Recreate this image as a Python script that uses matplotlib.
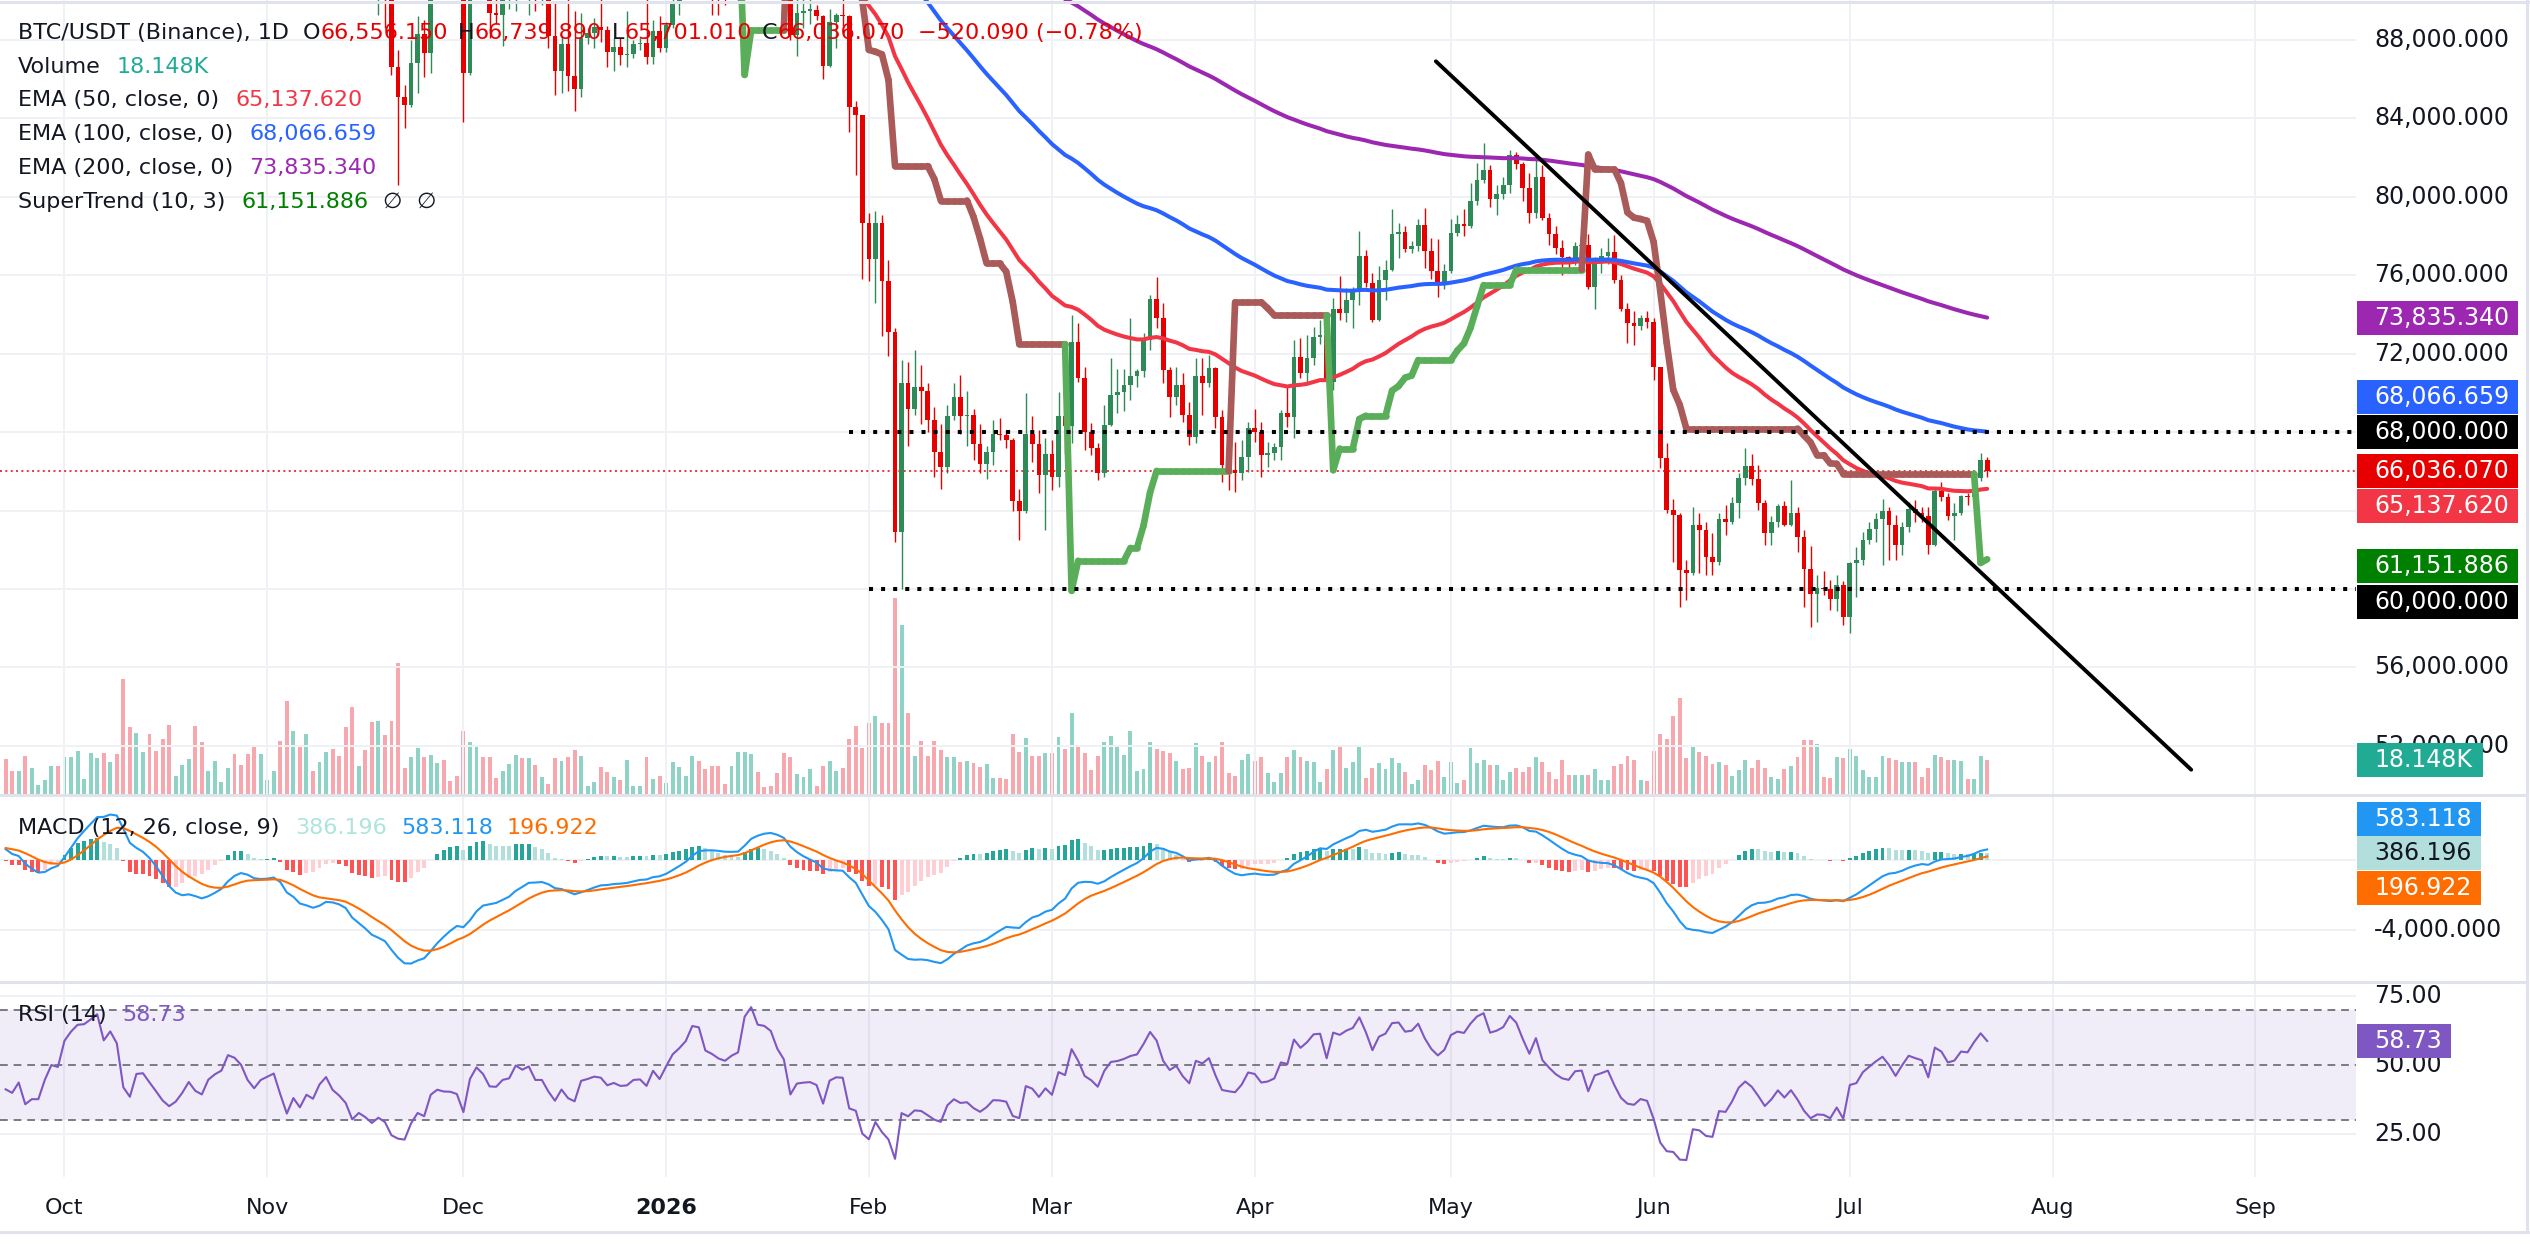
import numpy as np
import matplotlib
matplotlib.use("Agg")
import matplotlib.pyplot as plt
from matplotlib.patches import Rectangle
from matplotlib.collections import LineCollection
from matplotlib.lines import Line2D

W, H = 2530, 1253

# BTC/USDT (Binance) daily candles, 22 Sep 2025 .. 22 Jul 2026, prices in thousand USDT
first_open = 115.25
closes = [
    112.65, 111.99, 113.30, 109.00, 109.65, 109.65, 112.15, 114.35, 114.05,
    118.65, 120.65, 122.25, 122.40, 123.50, 124.75, 121.45, 123.35, 121.70, 113.20, 110.65, 115.15, 115.30, 113.10, 110.80, 108.20,
    106.45, 107.20, 108.65, 110.55, 108.45, 107.55, 110.05, 111.00, 111.65, 114.55, 114.10, 112.90, 110.05, 108.30, 109.60,
    110.10, 110.60, 106.55, 101.50, 103.90, 101.30, 103.35, 102.30, 104.70, 106.00, 103.05, 101.65, 99.70, 94.55, 95.55,
    94.20, 92.20, 92.95, 91.55, 86.60, 85.10, 84.70, 86.85, 88.30, 87.35, 90.50, 91.30, 90.90, 90.85, 90.40,
    86.30, 91.30, 93.45, 92.10, 89.40, 89.30, 90.40, 90.65, 92.70, 92.00, 92.50, 90.25, 90.25, 88.20, 86.40, 87.80,
    86.15, 85.50, 88.10, 88.35, 88.65, 88.50, 87.40, 87.65, 87.25, 87.30, 87.80, 87.85, 87.15, 88.45, 87.60,
    88.75, 89.95, 90.60, 91.40, 93.30, 93.20, 91.30, 91.00, 90.60, 90.40, 90.85, 91.15, 95.35, 97.00, 95.60, 95.50,
    95.10, 93.60, 92.60, 88.25, 89.40, 89.50, 89.55, 89.20, 86.65, 88.90, 89.25, 89.20, 84.60, 84.15, 78.65,
    76.84, 78.67, 75.70, 73.10, 62.90, 70.50, 69.20, 70.30, 70.10, 68.60, 67.00, 66.20, 68.80, 69.80,
    68.80, 68.90, 67.40, 66.40, 67.00, 67.90, 67.85, 67.60, 64.50, 64.00, 67.90, 67.40, 65.80, 66.90,
    65.70, 68.80, 68.30, 72.60, 70.75, 68.00, 67.17, 65.90, 68.37, 69.90, 70.06, 70.40, 70.86, 71.10, 72.70, 74.80,
    73.80, 71.17, 69.81, 70.40, 68.87, 67.77, 70.86, 70.49, 71.25, 68.79, 66.30, 66.07, 65.90, 66.75, 68.20,
    68.00, 66.84, 66.95, 67.26, 68.96, 68.79, 71.85, 71.00, 71.76, 72.87, 72.96, 70.57, 74.30, 74.06, 74.74,
    75.17, 76.98, 75.59, 73.70, 75.76, 76.27, 78.09, 78.20, 77.34, 77.49, 78.56, 77.26, 76.24, 75.59, 76.24,
    78.14, 78.62, 78.51, 79.79, 80.86, 81.37, 79.89, 80.15, 80.60, 82.14, 81.66, 80.43, 79.20, 81.00, 78.90, 78.11,
    77.40, 76.92, 76.75, 77.50, 77.56, 75.42, 76.78, 76.98, 77.20, 75.75, 74.30, 73.55, 73.41, 73.80, 73.60,
    71.34, 66.66, 64.03, 63.78, 60.97, 60.80, 63.27, 63.00, 61.65, 61.40, 63.57, 63.44, 64.37, 65.65, 66.27,
    65.60, 64.37, 62.87, 63.44, 64.23, 63.27, 63.90, 62.67, 61.00, 59.75, 60.04, 59.98, 59.47, 60.20, 58.59,
    61.31, 61.48, 62.50, 63.04, 63.55, 63.99, 63.26, 62.25, 63.18, 64.06, 63.86, 63.70, 62.25, 65.02, 64.68,
    63.72, 63.90, 64.74, 64.68, 65.65, 66.55615, 66.03607,
]
highs = [
    115.40, 113.25, 114.00, 113.90, 110.30, 110.00, 112.30, 114.50, 114.80,
    118.90, 121.00, 122.90, 122.90, 125.70, 126.20, 125.10, 124.20, 123.80, 122.50, 113.50, 115.80, 116.00, 115.80, 113.60, 111.10,
    109.20, 107.50, 109.50, 111.70, 114.00, 109.00, 111.30, 112.00, 111.90, 115.40, 116.10, 116.00, 113.60, 111.60, 111.20,
    110.60, 111.20, 110.80, 107.30, 104.80, 104.20, 104.00, 103.50, 105.50, 107.00, 107.00, 105.30, 104.00, 99.80, 96.80,
    96.60, 96.00, 93.80, 93.00, 93.20, 87.50, 85.70, 88.00, 89.20, 89.00, 90.70, 91.90, 93.00, 91.20, 92.00,
    91.90, 92.30, 94.20, 94.10, 92.70, 90.30, 91.80, 92.30, 94.60, 94.50, 93.50, 92.80, 90.60, 90.50, 90.00, 88.20,
    90.40, 89.50, 89.40, 88.60, 89.10, 90.60, 88.70, 88.10, 88.10, 89.50, 88.00, 88.10, 90.40, 89.00, 89.20,
    88.90, 90.90, 91.00, 91.80, 94.80, 94.40, 93.70, 91.50, 91.90, 90.90, 91.20, 92.40, 96.20, 97.90, 97.20, 95.90,
    95.60, 95.30, 94.00, 92.80, 90.40, 90.30, 90.50, 89.80, 89.25, 89.60, 89.40, 90.40, 89.30, 84.90, 84.20,
    79.20, 79.30, 79.10, 76.80, 73.30, 71.70, 71.60, 72.20, 71.40, 70.50, 69.30, 68.40, 69.40, 70.50,
    70.90, 70.10, 69.20, 68.40, 67.30, 68.60, 68.70, 68.10, 67.70, 65.10, 70.00, 68.80, 68.10, 67.70,
    67.60, 70.06, 69.20, 74.00, 73.55, 71.34, 68.45, 67.43, 69.40, 71.80, 71.20, 71.20, 73.80, 71.20, 73.04, 75.00,
    75.93, 74.57, 71.34, 71.34, 71.00, 69.55, 71.76, 71.76, 71.93, 71.34, 69.13, 67.26, 67.50, 67.60, 68.50,
    69.20, 68.50, 67.50, 67.43, 69.13, 70.32, 72.70, 72.79, 72.96, 73.38, 73.70, 73.00, 74.83, 75.96, 75.34,
    75.42, 78.26, 77.30, 76.13, 76.47, 76.80, 79.36, 78.65, 78.50, 77.77, 78.87, 79.41, 77.90, 77.85, 76.57,
    78.87, 79.10, 79.36, 80.69, 81.71, 82.76, 81.60, 80.60, 81.00, 82.39, 82.27, 81.80, 81.23, 81.90, 81.60, 79.16,
    78.50, 77.80, 77.00, 77.70, 78.10, 78.10, 76.95, 77.40, 77.90, 78.05, 76.00, 74.57, 74.20, 73.97, 74.20,
    73.80, 71.34, 67.43, 64.60, 63.90, 61.50, 64.20, 63.86, 63.43, 62.84, 63.86, 64.30, 64.70, 65.90, 67.20,
    66.90, 66.30, 64.54, 63.70, 64.34, 64.50, 65.56, 64.20, 63.00, 62.20, 60.70, 60.90, 60.46, 60.70, 60.40,
    61.40, 62.13, 62.90, 63.40, 63.90, 64.60, 64.20, 63.77, 63.40, 64.45, 64.54, 64.20, 64.20, 65.10, 65.47,
    64.90, 64.37, 64.80, 64.90, 65.80, 66.92, 66.73989,
]
lows = [
    112.00, 111.50, 111.10, 108.65, 108.60, 109.10, 109.20, 111.60, 112.70,
    113.90, 117.80, 119.30, 121.70, 122.00, 123.40, 120.50, 121.00, 119.60, 102.00, 109.60, 110.70, 113.00, 110.00, 110.00, 107.50,
    103.50, 106.30, 106.60, 107.50, 107.40, 106.60, 107.50, 109.70, 110.90, 111.50, 113.80, 111.90, 109.70, 106.40, 108.20,
    109.50, 109.80, 105.30, 99.00, 98.90, 100.80, 99.30, 101.50, 101.40, 104.30, 102.50, 100.80, 98.00, 94.00, 94.40,
    93.00, 91.20, 89.30, 88.60, 86.20, 80.60, 83.50, 84.60, 85.30, 86.10, 86.30, 90.10, 90.20, 90.40, 90.30,
    83.80, 86.20, 90.90, 91.70, 88.10, 88.80, 87.70, 89.60, 89.50, 91.60, 89.30, 89.50, 89.80, 87.60, 85.20, 85.30,
    85.40, 84.40, 85.10, 87.80, 87.60, 87.90, 86.60, 86.40, 86.70, 86.60, 87.10, 87.50, 86.80, 86.80, 87.40,
    87.40, 88.60, 89.30, 90.50, 91.20, 91.70, 90.70, 89.30, 89.30, 89.80, 90.20, 90.00, 91.10, 94.50, 94.70, 94.80,
    94.60, 93.10, 92.00, 88.00, 87.20, 88.60, 88.80, 89.00, 86.00, 86.60, 87.60, 88.70, 83.30, 81.10, 75.80,
    75.70, 74.60, 72.90, 71.90, 62.40, 60.00, 67.30, 68.90, 68.40, 68.00, 65.70, 65.10, 65.90, 68.60,
    67.90, 67.30, 66.60, 65.90, 65.60, 66.30, 67.60, 67.20, 64.00, 62.50, 63.90, 66.50, 64.90, 63.00,
    65.05, 65.20, 66.90, 67.43, 70.57, 67.09, 66.83, 65.56, 65.70, 68.30, 68.96, 69.10, 69.64, 70.30, 70.83, 72.20,
    73.30, 70.49, 68.79, 69.40, 68.50, 67.35, 67.43, 68.87, 70.32, 68.20, 65.47, 65.05, 64.97, 65.56, 65.99,
    67.50, 65.73, 66.24, 66.58, 66.58, 68.28, 67.69, 70.75, 70.40, 71.42, 72.50, 70.49, 70.15, 73.72, 73.63,
    73.30, 74.50, 75.40, 73.60, 73.67, 74.74, 76.20, 76.90, 77.20, 77.12, 77.26, 76.35, 75.80, 74.91, 75.28,
    76.10, 78.00, 78.00, 78.40, 79.60, 80.70, 79.47, 79.10, 79.90, 80.20, 81.40, 79.80, 78.68, 78.90, 78.80, 77.55,
    77.10, 76.02, 76.10, 76.50, 76.90, 75.30, 74.26, 76.10, 76.60, 75.60, 74.20, 72.53, 72.44, 73.20, 73.30,
    70.66, 66.15, 63.90, 61.40, 59.10, 59.44, 60.70, 60.80, 60.70, 60.70, 61.20, 62.75, 63.30, 63.60, 65.30,
    65.30, 64.03, 62.24, 62.24, 63.18, 63.20, 63.20, 61.90, 59.10, 58.08, 58.30, 59.70, 58.93, 58.90, 58.17,
    57.74, 59.61, 61.20, 62.30, 62.40, 61.20, 61.50, 61.50, 61.73, 62.90, 63.40, 63.40, 61.80, 62.20, 64.50,
    63.50, 62.50, 63.80, 64.30, 64.50, 65.50, 65.70101,
]
# daily volume, thousand BTC
volumes = [
    18.7, 12.3, 12.3, 20.4, 13.8, 5.4, 7.6, 14.9, 14.9, 19.5,
    19.5, 23.0, 8.3, 21.6, 19.0, 21.6, 16.9, 21.3, 60.1, 35.1,
    32.1, 22.1, 31.4, 22.6, 28.9, 36.3, 10.0, 15.6, 18.7, 35.6,
    27.6, 12.6, 17.6, 6.6, 13.8, 21.1, 15.6, 21.1, 25.1, 21.3,
    7.8, 12.3, 27.8, 48.9, 33.0, 25.1, 31.4, 12.3, 16.9, 22.1,
    23.7, 20.4, 35.1, 45.4, 15.0, 23.3, 37.7, 38.2, 30.9, 38.4,
    68.3, 13.8, 19.5, 24.2, 19.5, 20.9, 16.6, 18.3, 7.4, 9.7,
    33.4, 27.3, 25.1, 19.5, 19.5, 8.6, 12.6, 16.1, 20.9, 19.2,
    19.4, 15.6, 9.2, 5.7, 19.4, 17.8, 19.5, 23.5, 20.0, 4.8,
    6.9, 14.3, 11.8, 9.2, 7.8, 18.1, 4.8, 4.5, 19.5, 8.3,
    10.0, 6.0, 16.9, 14.7, 10.0, 20.0, 17.8, 13.5, 15.2, 14.9,
    5.7, 15.2, 22.1, 22.1, 21.3, 11.8, 4.0, 4.5, 11.2, 21.6,
    19.5, 10.9, 9.5, 13.5, 4.5, 14.9, 17.5, 12.6, 13.8, 29.0,
    35.6, 24.2, 37.3, 40.8, 37.3, 37.3, 102.0, 88.0, 42.3, 20.4,
    27.8, 20.4, 27.8, 23.5, 19.5, 19.5, 16.9, 17.8, 16.6, 14.3,
    16.1, 8.6, 9.0, 8.3, 31.4, 22.1, 29.4, 20.0, 20.0, 21.6,
    21.6, 29.9, 23.8, 42.3, 25.2, 21.6, 13.0, 20.0, 27.3, 30.4,
    25.2, 20.7, 33.0, 12.3, 13.5, 27.3, 23.8, 22.6, 21.6, 17.5,
    13.5, 13.8, 26.8, 20.0, 16.9, 20.0, 27.3, 11.2, 9.7, 18.1,
    21.1, 17.8, 19.5, 11.2, 6.9, 11.2, 19.5, 23.2, 19.5, 17.5,
    16.9, 6.6, 13.5, 23.2, 25.6, 13.8, 16.9, 24.7, 8.6, 13.8,
    16.4, 13.5, 19.0, 16.4, 12.1, 5.7, 7.8, 15.6, 13.0, 17.5,
    9.5, 16.9, 6.0, 7.8, 24.2, 16.4, 18.1, 15.7, 15.7, 7.8,
    11.8, 13.8, 12.1, 14.3, 19.5, 16.9, 12.1, 8.3, 18.3, 10.5,
    10.5, 10.5, 10.5, 13.5, 7.8, 7.8, 15.2, 16.1, 20.4, 18.1,
    7.8, 7.1, 22.6, 31.6, 29.0, 40.8, 50.1, 19.2, 24.7, 22.1,
    20.4, 16.1, 16.9, 15.6, 9.7, 13.0, 18.1, 13.8, 18.1, 13.8,
    9.2, 8.3, 13.5, 14.9, 19.5, 28.5, 28.5, 26.4, 9.2, 8.6,
    19.5, 19.0, 23.8, 20.4, 13.0, 9.2, 9.2, 20.0, 19.0, 18.1,
    16.9, 16.9, 16.9, 9.2, 13.8, 20.9, 19.9, 18.1, 18.1, 17.5,
    8.3, 8.3, 20.4, 18.148,
]

month_pos = [9, 40, 70, 101, 132, 160, 191, 221, 252, 282, 313, 344]
month_labels = ["Oct", "Nov", "Dec", "2026", "Feb", "Mar", "Apr", "May", "Jun", "Jul", "Aug", "Sep"]
price_ticks = [52000, 56000, 60000, 64000, 68000, 72000, 76000, 80000, 84000, 88000]
macd_ticks = [0, -4000]
rsi_ticks = [75, 50, 25]

# drawings on the chart
hlines = [68000, 60000]
hline_from = [129, 132]
trend_x = [218.7, 334.2]
trend_y = [86914, 50785]

# indicator state from the history before the first bar
ema_seed = {50: 113500.0, 100: 112300.0, 200: 105800.0}
macd_seed = (115300.0, 114400.0, 700.0)
rsi_seed = (700.0, 800.0)
atr_seed = 2800.0

# values shown in the legend / price scale
lbl_ohlc = ["66,556.150", "66,739.890", "65,701.010", "66,036.070"]
lbl_change = "\u2212520.090 (\u22120.78%)"
lbl_vol = "18.148K"
ema_values = {50: 65137.620, 100: 68066.659, 200: 73835.340}
st_value = 61151.886
macd_values = (583.118, 386.196, 196.922)
rsi_value = 58.73

# ---------------------------------------------------------------- indicators
c = np.array(closes) * 1000
h = np.array(highs) * 1000
l = np.array(lows) * 1000
o = np.r_[first_open * 1000, c[:-1]]  # crypto daily bars open at the previous close
vol = np.array(volumes)
n = len(c)
x = np.arange(n)


def ema(values, span, seed):
    k = 2.0 / (span + 1)
    out = np.empty(len(values))
    prev = seed
    for i, v in enumerate(values):
        prev = prev + k * (v - prev)
        out[i] = prev
    return out


def rsi(values, period, prev_close, gain0, loss0):
    out = np.empty(len(values))
    g, s = gain0, loss0
    prev = prev_close
    for i, v in enumerate(values):
        d = v - prev
        prev = v
        g = (g * (period - 1) + max(d, 0)) / period
        s = (s * (period - 1) + max(-d, 0)) / period
        out[i] = 100 - 100 / (1 + g / s)
    return out


def supertrend(o, h, l, c, period, factor, atr0):
    prev_c = np.r_[o[0], c[:-1]]
    tr = np.maximum(h - l, np.maximum(abs(h - prev_c), abs(l - prev_c)))
    atr = np.empty(len(c))
    a = atr0
    for i in range(len(c)):
        a = (a * (period - 1) + tr[i]) / period
        atr[i] = a
    mid = (h + l) / 2
    st = np.empty(len(c))
    up = np.empty(len(c), bool)
    trend_up = True
    lo_prev = hi_prev = None
    for i in range(len(c)):
        lo = mid[i] - factor * atr[i]
        hi = mid[i] + factor * atr[i]
        if i > 0:
            if not (lo > lo_prev or c[i - 1] < lo_prev):
                lo = lo_prev
            if not (hi < hi_prev or c[i - 1] > hi_prev):
                hi = hi_prev
            trend_up = not (c[i] < lo) if trend_up else c[i] > hi
        st[i] = lo if trend_up else hi
        up[i] = trend_up
        lo_prev, hi_prev = lo, hi
    return st, up


emas = {p: ema(c, p, ema_seed[p]) for p in (50, 100, 200)}
macd = ema(c, 12, macd_seed[0]) - ema(c, 26, macd_seed[1])
signal = ema(macd, 9, macd_seed[2])
hist = macd - signal
rsi14 = rsi(c, 14, o[0], *rsi_seed)
st, st_up = supertrend(o, h, l, c, 10, 3, atr_seed)

# ---------------------------------------------------------------- styling
UP, DN = "#2e8b57", "#e60000"
VUP, VDN = "#8fd3c6", "#f7a8ae"
GRID = "#eff1f5"
SEP = "#e0e3eb"
TXT = "#131722"
C50, C100, C200 = "#f23645", "#2962ff", "#9c27b0"
ST_UP, ST_DN = "#5aae5a", "#aa5a58"
FS_AX, FS_LEG = 17, 16

fig = plt.figure(figsize=(W / 100, H / 100), dpi=100)
fig.patch.set_facecolor("white")

PANE_R = 2356
main_top, main_bot = 0, 795
macd_bot, rsi_bot = 982, 1177


def add_pane(y0, y1, x0=0, x1=PANE_R):
    a = fig.add_axes([x0 / W, 1 - y1 / H, (x1 - x0) / W, (y1 - y0) / H])
    for s in a.spines.values():
        s.set_visible(False)
    a.set_xticks([])
    a.set_yticks([])
    return a


XL = (-0.86, 359.4)
ax = add_pane(main_top, main_bot)
axv = ax.twinx()
axv.axis("off")
ax.set_zorder(axv.get_zorder() + 1)
ax.patch.set_visible(False)
axm = add_pane(main_bot, macd_bot)
axr = add_pane(macd_bot, rsi_bot)
for a in (ax, axv, axm, axr):
    a.set_xlim(*XL)
ax.set_ylim(49495, 90040)
axv.set_ylim(0, 412)
axm.set_ylim(-6971, 3714)
axr.set_ylim(9.3, 80.2)

# grid
for a in (ax, axm, axr):
    for m in month_pos:
        a.axvline(m, color=GRID, lw=1.4, zorder=0)
for p in price_ticks:
    ax.axhline(p, color=GRID, lw=1.4, zorder=0)
for v in macd_ticks:
    axm.axhline(v, color=GRID, lw=1.4, zorder=0)
for v in (75, 25):
    axr.axhline(v, color=GRID, lw=1.4, zorder=0)

# volume
up = c >= o
axv.bar(x, vol, width=0.6, color=np.where(up, VUP, VDN), lw=0)

# candles
col = np.where(up, UP, DN)
ax.vlines(x, l, h, colors=col, lw=1.0, zorder=3)
ax.bar(x, np.maximum(abs(c - o), 60), bottom=np.minimum(o, c), width=0.72, color=col, lw=0, zorder=4)

# last price line
ax.axhline(c[-1], color="#e60000", lw=1.1, dashes=(1.3, 2.2), zorder=3.5)

# moving averages
for p, cc in ((50, C50), (100, C100), (200, C200)):
    ax.plot(x, emas[p], color=cc, lw=2.9, zorder=5, solid_capstyle="round")

# supertrend, each segment coloured by the trend at its end bar
valid = x >= 10
pts = np.column_stack([x, st])
segs = [pts[i - 1:i + 1] for i in range(1, n) if valid[i - 1]]
seg_col = [ST_UP if st_up[i] else ST_DN for i in range(1, n) if valid[i - 1]]
ax.add_collection(LineCollection(segs, colors=seg_col, linewidths=4.8, capstyle="round",
                                 joinstyle="round", zorder=6))

# horizontal levels and trend line
for lvl, start in zip(hlines, hline_from):
    ax.plot([start, XL[1]], [lvl, lvl], color="black", lw=2.9, dashes=(1, 2),
            solid_capstyle="butt", dash_capstyle="butt", zorder=7)
ax.plot(trend_x, trend_y, color="black", lw=2.8, zorder=7, solid_capstyle="round")

# MACD
hcol = []
for i in range(n):
    rising = i > 0 and hist[i] > hist[i - 1]
    if hist[i] >= 0:
        hcol.append("#26a69a" if rising else "#b2dfdb")
    else:
        hcol.append("#ffcdd2" if rising else "#ff5252")
axm.bar(x, hist, width=0.6, color=hcol, lw=0, zorder=2)
axm.plot(x, macd, color="#2196f3", lw=1.5, zorder=3)
axm.plot(x, signal, color="#ff6d00", lw=1.5, zorder=3)

# RSI
axr.axhspan(30, 70, color="#7e57c2", alpha=0.1, lw=0, zorder=0)
for lvl in (70, 50, 30):
    axr.axhline(lvl, color="#787b86", lw=1.4, dashes=(4, 3), zorder=1)
axr.plot(x, rsi14, color="#7e57c2", lw=1.5, zorder=3)

# ---------------------------------------------------------------- price scales
def scale_col(pane, y0, y1):
    a = add_pane(y0, y1, PANE_R, W)
    a.set_xlim(0, W - PANE_R)
    a.set_ylim(pane.get_ylim())
    a.patch.set_visible(False)
    return a


colp = scale_col(ax, main_top, main_bot)
colm = scale_col(axm, main_bot, macd_bot)
colr = scale_col(axr, macd_bot, rsi_bot)


def px_units(a, px, y0, y1):
    lo, hi = a.get_ylim()
    return px * (hi - lo) / (y1 - y0)


def stack(tags, gap):
    # pinned tags stay at their value, the others are pushed away from them
    pos = [t[0] if t[1] else None for t in tags]
    placed = [t[0] for t in tags if t[1]]
    for k, (v, pinned) in enumerate(tags):
        if pinned:
            continue
        y = v
        for p in sorted(placed, key=lambda q: abs(q - v)):
            if abs(y - p) < gap:
                y = p + gap if v > p else p - gap
        pos[k] = y
        placed.append(y)
    return pos


boxes = {colp: [], colm: [], colr: []}


def tag(a, y, text, bg, hgt, width=161, fg="white"):
    a.add_patch(Rectangle((1, y - hgt / 2), width, hgt, facecolor=bg, edgecolor="none", zorder=5))
    a.text(18, y, text, color=fg, fontsize=FS_AX, va="center", ha="left", zorder=6)
    boxes[a].append((y, hgt / 2, width))


hp = px_units(colp, 34, main_top, main_bot)
gp = px_units(colp, 35.5, main_top, main_bot)
main_tags = [
    (ema_values[200], False, f"{ema_values[200]:,.3f}", C200),
    (ema_values[100], False, f"{ema_values[100]:,.3f}", C100),
    (hlines[0], True, f"{hlines[0]:,.3f}", "black"),
    (c[-1], True, lbl_ohlc[3], "#e60000"),
    (ema_values[50], False, f"{ema_values[50]:,.3f}", C50),
    (st_value, True, f"{st_value:,.3f}", "#008000"),
    (hlines[1], False, f"{hlines[1]:,.3f}", "black"),
]
for (v, _, s, bg), y in zip(main_tags, stack([(t[0], t[1]) for t in main_tags], gp)):
    tag(colp, y, s, bg, hp)
lo, hi = ax.get_ylim()
tag(colp, lo + vol[-1] / axv.get_ylim()[1] * (hi - lo), lbl_vol, "#22ab94", hp, width=126)

hm = px_units(colm, 34, main_bot, macd_bot)
gm = px_units(colm, 34.5, main_bot, macd_bot)
macd_tags = [(macd_values[0], False, "#2196f3", "white"),
             (macd_values[1], True, "#b2dfdb", TXT),
             (macd_values[2], False, "#ff6d00", "white")]
for (v, _, bg, fg), y in zip(macd_tags, stack([(t[0], t[1]) for t in macd_tags], gm)):
    tag(colm, y, f"{v:,.3f}", bg, hm, width=124, fg=fg)

hr = px_units(colr, 34, macd_bot, rsi_bot)
tag(colr, rsi_value, f"{rsi_value:.2f}", "#7e57c2", hr, width=94)


def scale_labels(a, ticks, fmt, label_w):
    # a label that sits under a wider tag is fully hidden, so it is not drawn
    for v in ticks:
        if any(abs(v - y) < hh and w >= label_w for y, hh, w in boxes[a]):
            continue
        a.text(18, v, fmt(v), color=TXT, fontsize=FS_AX, va="center", ha="left", zorder=2)


scale_labels(colp, price_ticks, lambda v: f"{v:,.3f}", 150)
scale_labels(colm, macd_ticks, lambda v: f"{v:,.3f}", 60)
scale_labels(colr, rsi_ticks, lambda v: f"{v:.2f}", 80)

# ---------------------------------------------------------------- frame lines
def fig_line(x0, y0, x1, y1, lw=2.2):
    fig.add_artist(Line2D([x0 / W, x1 / W], [1 - y0 / H, 1 - y1 / H], color=SEP, lw=lw))


fig_line(0, 1.5, W, 1.5)
fig_line(0, main_bot, W - 3, main_bot)
fig_line(0, macd_bot, W - 3, macd_bot)
fig_line(0, 1232, W, 1232)
fig_line(W - 3, 0, W - 3, 1232)

# ---------------------------------------------------------------- date labels
for m, s in zip(month_pos, month_labels):
    xp = ax.transData.transform((m, 0))[0]
    fig.text(xp / W, 1 - 1208 / H, s, color=TXT, fontsize=16, ha="center", va="center",
             fontweight="bold" if s == "2026" else "normal")

# ---------------------------------------------------------------- legends
renderer = fig.canvas.get_renderer()


def text_run(x0, y, pieces, size=FS_LEG):
    xx = x0
    for s, color, gap in pieces:
        t = fig.text(xx / W, 1 - y / H, s, color=color, fontsize=size, ha="left", va="center")
        xx = t.get_window_extent(renderer).x1 + gap


RED = "#e60000"
text_run(18, 33, [("BTC/USDT (Binance), 1D", TXT, 14), ("O", TXT, 0), (lbl_ohlc[0], RED, 10),
                  ("H", TXT, 0), (lbl_ohlc[1], RED, 10), ("L", TXT, 0), (lbl_ohlc[2], RED, 10),
                  ("C", TXT, 0), (lbl_ohlc[3], RED, 14), (lbl_change, RED, 0)])
text_run(18, 67, [("Volume", TXT, 16), (lbl_vol, "#22ab94", 0)])
text_run(18, 100, [("EMA (50, close, 0)", TXT, 16), (f"{ema_values[50]:,.3f}", C50, 0)])
text_run(18, 134, [("EMA (100, close, 0)", TXT, 16), (f"{ema_values[100]:,.3f}", C100, 0)])
text_run(18, 168, [("EMA (200, close, 0)", TXT, 16), (f"{ema_values[200]:,.3f}", C200, 0)])
text_run(18, 202, [("SuperTrend (10, 3)", TXT, 16), (f"{st_value:,.3f}", "#008000", 14),
                   ("\u2205", TXT, 14), ("\u2205", TXT, 0)])
text_run(18, 828, [("MACD (12, 26, close, 9)", TXT, 16), (f"{macd_values[1]:.3f}", "#ace5dc", 14),
                   (f"{macd_values[0]:.3f}", "#2196f3", 14), (f"{macd_values[2]:.3f}", "#ff6d00", 0)])
text_run(18, 1015, [("RSI (14)", TXT, 16), (f"{rsi_value:.2f}", "#7e57c2", 0)])

fig.savefig("out.png", dpi=100, facecolor="white")
